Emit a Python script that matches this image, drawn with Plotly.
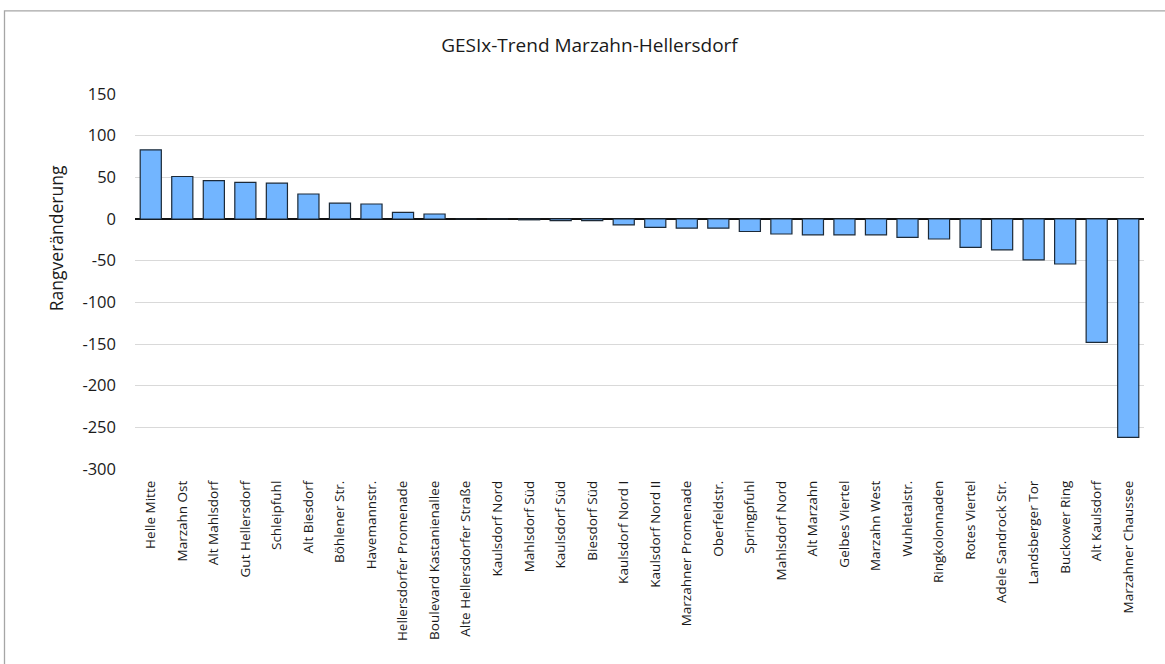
import plotly.graph_objects as go

categories = [
    "Helle Mitte", "Marzahn Ost", "Alt Mahlsdorf", "Gut Hellersdorf", "Schleipfuhl",
    "Alt Biesdorf", "Böhlener Str.", "Havemannstr.", "Hellersdorfer Promenade",
    "Boulevard Kastanienallee", "Alte Hellersdorfer Straße", "Kaulsdorf Nord",
    "Mahlsdorf Süd", "Kaulsdorf Süd", "Biesdorf Süd", "Kaulsdorf Nord I",
    "Kaulsdorf Nord II", "Marzahner Promenade", "Oberfeldstr.", "Springpfuhl",
    "Mahlsdorf Nord", "Alt Marzahn", "Gelbes Viertel", "Marzahn West", "Wuhletalstr.",
    "Ringkolonnaden", "Rotes Viertel", "Adele Sandrock Str.", "Landsberger Tor",
    "Buckower Ring", "Alt Kaulsdorf", "Marzahner Chaussee",
]
values = [
    83, 51, 46, 44, 43,
    30, 19, 18, 8,
    6, 0, 0,
    -1, -2, -2, -7,
    -10, -11, -11, -15,
    -18, -19, -19, -19, -22,
    -24, -34, -37, -49,
    -54, -148, -262,
]
y_ticks = [150, 100, 50, 0, -50, -100, -150, -200, -250, -300]

FONT = "Open Sans"

fig = go.Figure(go.Bar(
    x=categories, y=values,
    marker=dict(color="#72B5FF", line=dict(color="#1c2a38", width=1.2)),
    width=0.67,
))

fig.update_layout(
    width=1165, height=664,
    margin=dict(l=135, r=21, t=94, b=195),
    paper_bgcolor="white", plot_bgcolor="white",
    showlegend=False,
    font=dict(family=FONT, color="#1a1a1a"),
    title=dict(text="GESIx-Trend Marzahn-Hellersdorf", x=0.506, xref="container",
               xanchor="center", y=1 - 45.5 / 664, yref="container", yanchor="middle",
               font=dict(size=19, family=FONT, color="#1a1a1a")),
    bargap=0.33,
)
fig.update_xaxes(
    type="category", tickangle=-90, tickfont=dict(size=13.5, family=FONT),
    showgrid=False, showline=False, ticks="", ticklabelstandoff=8,
)
fig.update_yaxes(
    range=[-300, 150], tickvals=y_ticks, ticktext=[str(v) for v in y_ticks],
    showgrid=True, gridcolor="#d9d9d9", gridwidth=1.3,
    zeroline=True, zerolinecolor="#111111", zerolinewidth=1.6,
    tickfont=dict(size=16.5, family=FONT), ticks="", ticklabelstandoff=18,
    showline=False,
)
fig.add_annotation(
    text="Rangveränderung", textangle=-90, xref="paper", yref="paper",
    x=(56 - 135) / 1009, y=(469 - 238) / 375.3, xanchor="center", yanchor="middle",
    showarrow=False, font=dict(size=17.5, family=FONT, color="#1a1a1a"),
)
fig.add_shape(
    type="rect", xref="paper", yref="paper",
    x0=(4.5 - 135) / 1009, x1=(1175 - 135) / 1009,
    y0=(469 - 680) / 375.3, y1=(469 - 10.5) / 375.3,
    line=dict(color="#a6a6a6", width=1.3), fillcolor="rgba(0,0,0,0)", layer="below",
)
fig.write_html("out.html", post_script="document.body.style.margin='0';",
               config={"displayModeBar": False})
